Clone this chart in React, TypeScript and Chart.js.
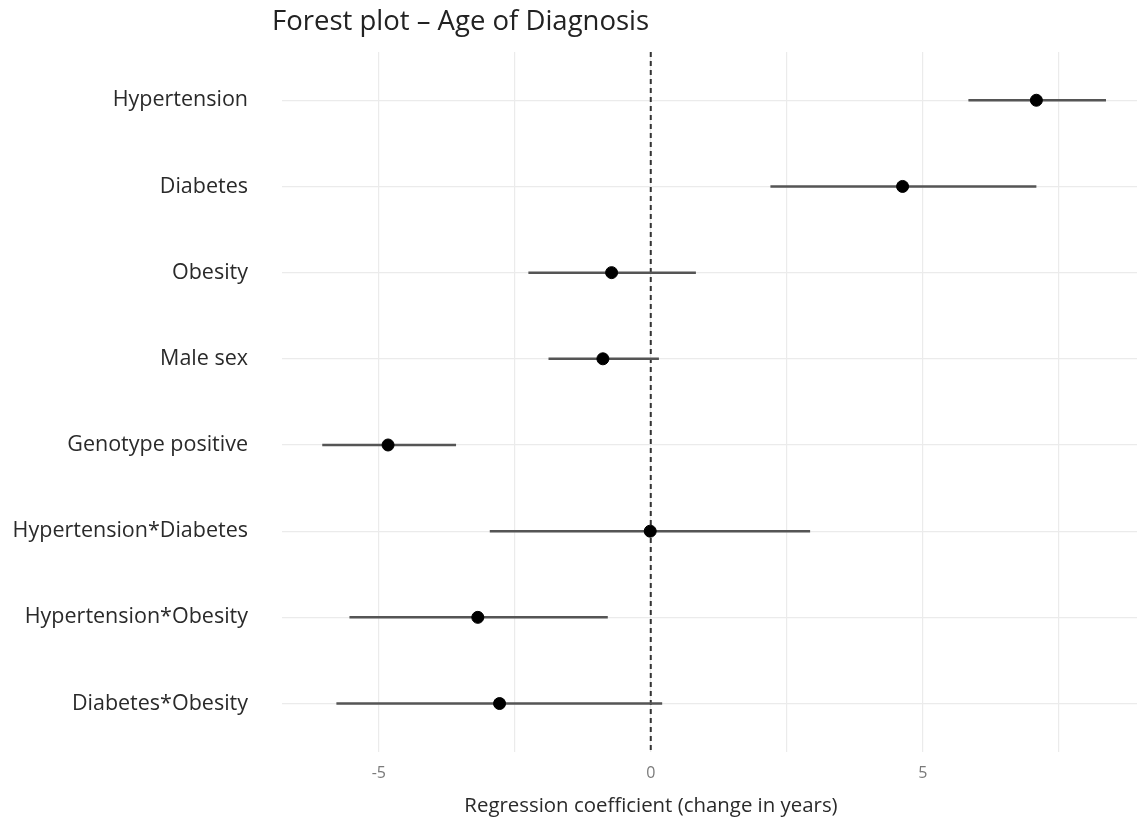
import React, { useEffect, useRef } from "react";
import { Chart, registerables } from "chart.js";

Chart.register(...registerables);

const categories = [
  "Hypertension",
  "Diabetes",
  "Obesity",
  "Male sex",
  "Genotype positive",
  "Hypertension*Diabetes",
  "Hypertension*Obesity",
  "Diabetes*Obesity",
];
const estimates = [7.09, 4.63, -0.72, -0.88, -4.83, -0.01, -3.18, -2.78];
const lowerCI = [5.84, 2.2, -2.25, -1.88, -6.04, -2.96, -5.54, -5.78];
const upperCI = [8.37, 7.09, 0.83, 0.15, -3.58, 2.93, -0.79, 0.21];
const xTickValues = [-5, -2.5, 0, 2.5, 5, 7.5];
const xTickLabels = ["-5", "", "0", "", "5", ""];
const referenceValue = 0;
const chartTitle = "Forest plot \u2013 Age of Diagnosis";
const xAxisTitle = "Regression coefficient (change in years)";

const FONT = "'Open Sans', 'Noto Sans', sans-serif";

export default function App() {
  const canvasRef = useRef<HTMLCanvasElement | null>(null);

  useEffect(() => {
    if (!canvasRef.current) return;

    const ciDatasets = categories.map((c, i) => ({
      type: "line" as const,
      label: c + " CI",
      data: [
        { x: lowerCI[i], y: i },
        { x: upperCI[i], y: i },
      ],
      borderColor: "#555555",
      borderWidth: 2.5,
      pointRadius: 0,
      showLine: true,
      order: 2,
    }));

    const refLinePlugin = {
      id: "refLine",
      beforeDatasetsDraw(chart: any) {
        const { ctx, chartArea, scales } = chart;
        const x = scales.x.getPixelForValue(referenceValue);
        ctx.save();
        ctx.strokeStyle = "#333333";
        ctx.lineWidth = 2;
        ctx.setLineDash([5, 4]);
        ctx.beginPath();
        ctx.moveTo(x, chartArea.top);
        ctx.lineTo(x, chartArea.bottom);
        ctx.stroke();
        ctx.restore();
      },
    };

    const textPlugin = {
      id: "customTexts",
      afterDraw(chart: any) {
        const { ctx, chartArea } = chart;
        ctx.save();
        ctx.fillStyle = "#222222";
        ctx.font = `27.5px ${FONT}`;
        ctx.textAlign = "left";
        ctx.textBaseline = "alphabetic";
        ctx.fillText(chartTitle, chartArea.left - 10, 30);

        ctx.fillStyle = "#2a2a2a";
        ctx.font = `20.4px ${FONT}`;
        ctx.textAlign = "center";
        ctx.textBaseline = "middle";
        ctx.fillText(xAxisTitle, 651, 806);
        ctx.restore();
      },
    };

    const chart = new Chart(canvasRef.current, {
      type: "scatter",
      data: {
        datasets: [
          {
            type: "scatter" as const,
            label: "Estimate",
            data: estimates.map((v, i) => ({ x: v, y: i })),
            backgroundColor: "#000000",
            borderColor: "#000000",
            pointRadius: 6,
            pointHoverRadius: 6,
            order: 1,
          },
          ...ciDatasets,
        ] as any,
      },
      options: {
        animation: false,
        responsive: false,
        maintainAspectRatio: false,
        layout: { autoPadding: false, padding: { top: 52, right: 0, bottom: 28, left: 0 } },
        plugins: {
          legend: { display: false },
          tooltip: { enabled: false },
          title: { display: false },
        },
        scales: {
          x: {
            type: "linear",
            min: -6.78,
            max: 8.94,
            afterBuildTicks(scale: any) {
              scale.ticks = xTickValues.map((v) => ({ value: v }));
            },
            afterFit(scale: any) {
              scale.paddingLeft = 0;
              scale.paddingRight = 0;
            },
            ticks: {
              callback: (value: any) => {
                const idx = xTickValues.indexOf(Number(value));
                return idx >= 0 ? xTickLabels[idx] : "";
              },
              color: "#7a7a7a",
              font: { family: FONT, size: 16 },
              padding: 12,
              maxRotation: 0,
              autoSkip: false,
            },
            grid: {
              color: "#ebebeb",
              lineWidth: 1.2,
              drawTicks: false,
              tickLength: 0,
            },
            border: { display: false },
          },
          y: {
            type: "linear",
            reverse: true,
            min: -0.56,
            max: 7.56,
            afterBuildTicks(scale: any) {
              scale.ticks = categories.map((_, i) => ({ value: i }));
            },
            afterFit(scale: any) {
              scale.width = 282;
              scale.paddingTop = 0;
              scale.paddingBottom = 0;
            },
            ticks: {
              callback: (value: any) => categories[Number(value)] ?? "",
              color: "#2a2a2a",
              font: { family: FONT, size: 21.5 },
              padding: 34,
              autoSkip: false,
            },
            grid: {
              color: "#ebebeb",
              lineWidth: 1.2,
              drawTicks: false,
              tickLength: 0,
            },
            border: { display: false },
          },
        },
      } as any,
      plugins: [refLinePlugin, textPlugin],
    });

    return () => chart.destroy();
  }, []);

  return (
    <div
      style={{
        position: "fixed",
        left: 0,
        top: 0,
        width: 1137,
        height: 823,
        background: "#ffffff",
      }}
    >
      <canvas ref={canvasRef} width={1137} height={823} style={{ width: 1137, height: 823 }} />
    </div>
  );
}
